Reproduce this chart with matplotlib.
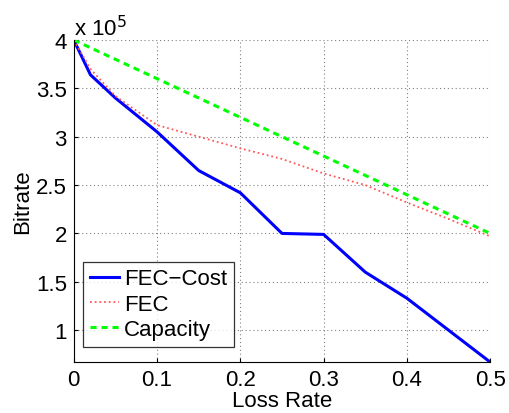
import matplotlib.pyplot as plt
from matplotlib.ticker import FuncFormatter

# Data
loss_rate = [0, 0.02, 0.05, 0.1, 0.15, 0.2, 0.25, 0.3, 0.35, 0.4, 0.45, 0.5]
fec_cost = [4.0e5, 3.64e5, 3.40e5, 3.05e5, 2.65e5, 2.42e5, 2.00e5, 1.99e5,
            1.60e5, 1.33e5, 1.00e5, 0.67e5]
fec = [4.0e5, 3.70e5, 3.42e5, 3.12e5, 3.00e5, 2.88e5, 2.77e5, 2.62e5,
       2.50e5, 2.32e5, 2.15e5, 1.97e5]
capacity = [4.0e5, 3.92e5, 3.80e5, 3.60e5, 3.40e5, 3.20e5, 3.00e5, 2.80e5,
            2.60e5, 2.40e5, 2.20e5, 2.00e5]

plt.rcParams['font.family'] = ['Liberation Sans', 'DejaVu Sans']
plt.rcParams['font.size'] = 16

fig = plt.figure(figsize=(5.09, 4.14), dpi=100)
ax = fig.add_axes([0.145, 0.123, 0.818, 0.778])

ax.plot(loss_rate, fec_cost, color=(0, 0, 1), lw=2.2, label='FEC\u2212Cost')
ax.plot(loss_rate, fec, color=(1, 0.35, 0.35), lw=1.3, ls=(0, (1, 1.6)),
        label='FEC')
ax.plot(loss_rate, capacity, color=(0, 1, 0), lw=2.2, ls=(0, (2, 1.6)),
        label='Capacity')

ax.set_xlim(0, 0.5)
ax.set_ylim(min(fec_cost), 4.0e5)
ax.set_xticks([0, 0.1, 0.2, 0.3, 0.4, 0.5])
ax.set_xticklabels(['0', '0.1', '0.2', '0.3', '0.4', '0.5'])
ax.set_yticks([1e5, 1.5e5, 2e5, 2.5e5, 3e5, 3.5e5, 4e5])
ax.yaxis.set_major_formatter(FuncFormatter(lambda v, p: f'{v / 1e5:g}'))
ax.text(0, 1.0, 'x 10$^5$', transform=ax.transAxes, ha='left', va='bottom')

ax.grid(True, ls=(0, (1, 2.5)), color='#808080', lw=0.8)
ax.spines['top'].set_visible(False)
ax.spines['right'].set_visible(False)
ax.tick_params(direction='in', length=3, width=0.8, pad=5)

ax.set_xlabel('Loss Rate', labelpad=0)
ax.set_ylabel('Bitrate', labelpad=2)

leg = ax.legend(loc='lower left', bbox_to_anchor=(0.022, 0.047),
                fancybox=False, edgecolor='black', borderaxespad=0,
                handlelength=1.3, handletextpad=0.25,
                borderpad=0.3, labelspacing=0.2)
leg.get_frame().set_linewidth(0.9)

fig.savefig('out.png', dpi=100)
